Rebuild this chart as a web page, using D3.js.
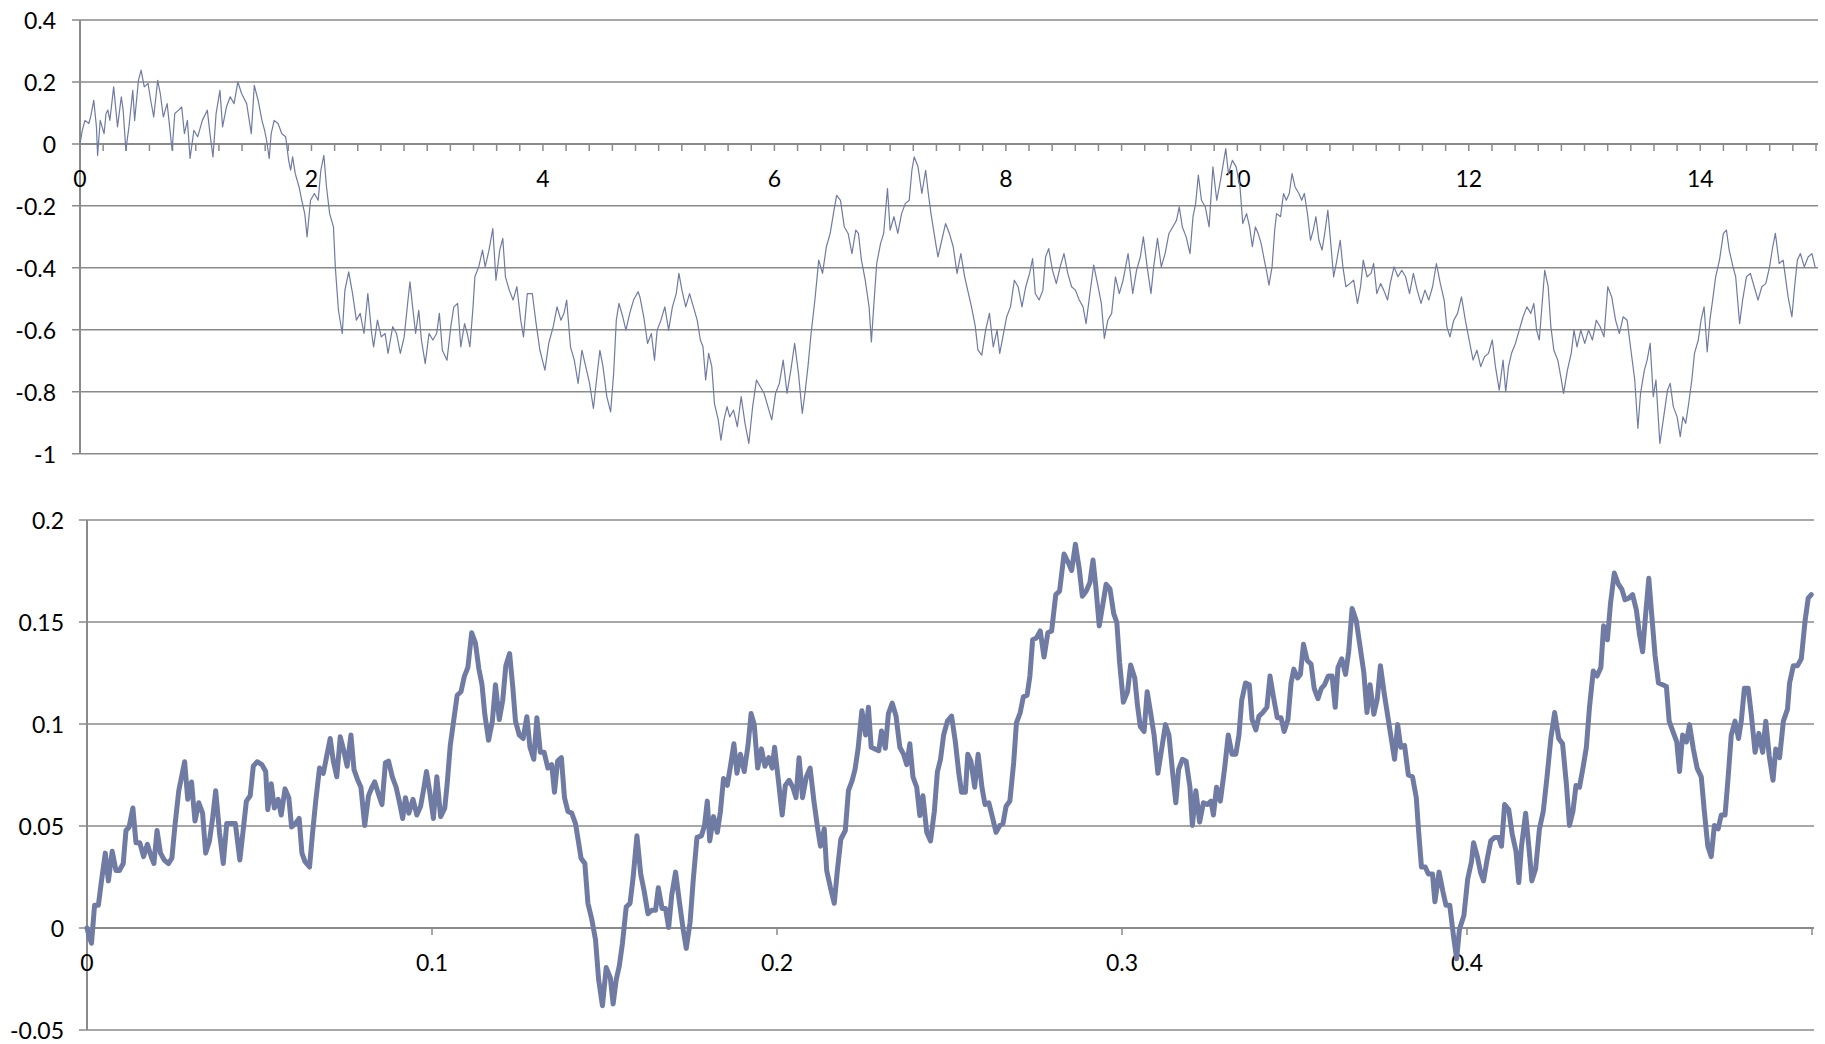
<!DOCTYPE html>
<html>
<head>
<meta charset="utf-8">
<script src="https://cdn.jsdelivr.net/npm/d3@7/dist/d3.min.js"></script>
<style>
  html, body { margin: 0; padding: 0; background: #ffffff; }
  svg { display: block; }
  text { font-family: Lato, "Open Sans", "DejaVu Sans", sans-serif; font-size: 23px; fill: #000; }
</style>
</head>
<body>
<svg id="chart" width="1825" height="1044"></svg>
<script>
// ---------- Top panel data (t from 0 to 15) ----------
const topT = [0.000,0.020,0.043,0.076,0.092,0.119,0.142,0.152,0.175,0.208,0.225,0.241,0.258,0.291,0.324,0.357,0.373,0.396,0.423,0.456,0.472,0.505,0.528,0.555,0.588,0.611,0.637,0.671,0.694,0.720,0.753,0.796,0.819,0.852,0.879,0.902,0.928,0.951,0.984,1.017,1.057,1.100,1.123,1.149,1.176,1.209,1.232,1.265,1.298,1.331,1.364,1.397,1.440,1.480,1.506,1.539,1.572,1.595,1.612,1.635,1.652,1.678,1.711,1.744,1.777,1.803,1.820,1.837,1.860,1.893,1.916,1.942,1.962,1.992,2.025,2.058,2.081,2.107,2.130,2.157,2.190,2.206,2.233,2.266,2.289,2.322,2.355,2.388,2.421,2.454,2.487,2.520,2.537,2.570,2.603,2.636,2.662,2.702,2.735,2.768,2.801,2.834,2.851,2.874,2.900,2.927,2.950,2.983,3.016,3.049,3.082,3.105,3.131,3.171,3.204,3.230,3.263,3.290,3.323,3.346,3.369,3.396,3.412,3.445,3.478,3.501,3.534,3.567,3.594,3.627,3.653,3.676,3.709,3.742,3.775,3.808,3.832,3.865,3.908,3.941,3.974,4.017,4.050,4.089,4.122,4.155,4.182,4.205,4.238,4.271,4.304,4.337,4.370,4.403,4.436,4.469,4.492,4.519,4.552,4.585,4.611,4.634,4.657,4.690,4.717,4.750,4.783,4.822,4.838,4.871,4.904,4.937,4.964,4.987,5.020,5.053,5.086,5.119,5.152,5.175,5.201,5.234,5.267,5.300,5.333,5.360,5.383,5.406,5.432,5.459,5.482,5.515,5.538,5.564,5.591,5.614,5.647,5.680,5.713,5.746,5.779,5.812,5.845,5.878,5.911,5.944,5.977,6.010,6.043,6.076,6.109,6.142,6.175,6.208,6.241,6.264,6.290,6.317,6.350,6.383,6.416,6.449,6.482,6.515,6.538,6.571,6.604,6.637,6.670,6.703,6.726,6.752,6.785,6.818,6.838,6.858,6.884,6.917,6.944,6.977,7.000,7.033,7.066,7.099,7.132,7.165,7.188,7.208,7.241,7.274,7.307,7.330,7.353,7.380,7.413,7.446,7.479,7.512,7.545,7.578,7.611,7.644,7.670,7.703,7.736,7.759,7.792,7.825,7.858,7.891,7.924,7.947,7.974,8.007,8.040,8.073,8.106,8.139,8.172,8.205,8.231,8.254,8.287,8.320,8.343,8.370,8.403,8.436,8.469,8.502,8.535,8.568,8.601,8.634,8.667,8.693,8.726,8.759,8.792,8.825,8.851,8.881,8.914,8.947,8.980,9.013,9.056,9.096,9.129,9.162,9.188,9.221,9.254,9.277,9.310,9.343,9.376,9.409,9.442,9.475,9.498,9.525,9.558,9.591,9.617,9.640,9.663,9.690,9.723,9.756,9.789,9.822,9.855,9.874,9.900,9.923,9.957,9.990,10.023,10.047,10.080,10.106,10.130,10.156,10.180,10.206,10.233,10.256,10.273,10.300,10.323,10.339,10.373,10.399,10.423,10.449,10.473,10.499,10.532,10.556,10.579,10.606,10.632,10.656,10.679,10.705,10.732,10.755,10.782,10.805,10.832,10.855,10.889,10.912,10.938,10.972,11.005,11.038,11.065,11.088,11.121,11.155,11.178,11.205,11.238,11.265,11.298,11.321,11.354,11.388,11.421,11.454,11.488,11.521,11.554,11.587,11.621,11.654,11.687,11.720,11.754,11.787,11.810,11.837,11.870,11.903,11.937,11.970,12.003,12.037,12.070,12.103,12.136,12.170,12.203,12.230,12.263,12.296,12.319,12.343,12.369,12.403,12.436,12.469,12.502,12.536,12.562,12.586,12.609,12.636,12.656,12.686,12.709,12.735,12.769,12.795,12.819,12.852,12.885,12.909,12.935,12.968,13.002,13.035,13.068,13.102,13.135,13.168,13.201,13.235,13.268,13.301,13.334,13.368,13.401,13.434,13.461,13.484,13.517,13.541,13.567,13.594,13.617,13.651,13.684,13.717,13.740,13.767,13.800,13.827,13.850,13.874,13.900,13.927,13.950,13.983,14.007,14.033,14.060,14.083,14.107,14.133,14.166,14.200,14.226,14.250,14.283,14.306,14.340,14.366,14.399,14.433,14.466,14.499,14.532,14.566,14.599,14.626,14.649,14.682,14.716,14.759,14.792,14.815,14.839,14.865,14.899,14.932,14.965,14.992];
const topW = [0.000,0.044,0.076,0.066,0.087,0.141,0.055,-0.037,0.076,0.033,0.098,0.109,0.076,0.184,0.055,0.152,0.109,-0.020,0.055,0.173,0.076,0.205,0.238,0.184,0.195,0.141,0.087,0.205,0.162,0.087,0.130,-0.020,0.098,0.109,0.119,0.033,0.076,-0.047,0.044,0.023,0.076,0.109,0.033,-0.042,0.098,0.173,0.055,0.119,0.152,0.130,0.200,0.162,0.130,0.033,0.189,0.141,0.076,0.044,0.012,-0.047,0.033,0.076,0.066,0.033,0.023,-0.053,-0.085,-0.042,-0.096,-0.139,-0.182,-0.225,-0.300,-0.182,-0.160,-0.182,-0.085,-0.037,-0.139,-0.225,-0.268,-0.397,-0.537,-0.612,-0.472,-0.413,-0.483,-0.569,-0.547,-0.612,-0.483,-0.612,-0.655,-0.569,-0.623,-0.612,-0.676,-0.590,-0.612,-0.676,-0.623,-0.504,-0.445,-0.526,-0.612,-0.537,-0.633,-0.709,-0.612,-0.633,-0.612,-0.547,-0.666,-0.698,-0.590,-0.526,-0.515,-0.655,-0.580,-0.612,-0.655,-0.526,-0.429,-0.397,-0.343,-0.397,-0.343,-0.273,-0.440,-0.343,-0.305,-0.429,-0.472,-0.504,-0.461,-0.569,-0.623,-0.483,-0.483,-0.580,-0.666,-0.730,-0.644,-0.590,-0.526,-0.569,-0.547,-0.504,-0.655,-0.698,-0.773,-0.666,-0.719,-0.773,-0.854,-0.741,-0.666,-0.719,-0.816,-0.865,-0.741,-0.569,-0.515,-0.558,-0.601,-0.547,-0.504,-0.477,-0.494,-0.558,-0.644,-0.612,-0.698,-0.601,-0.569,-0.526,-0.601,-0.526,-0.483,-0.418,-0.472,-0.526,-0.483,-0.526,-0.569,-0.633,-0.655,-0.762,-0.676,-0.719,-0.838,-0.891,-0.956,-0.891,-0.848,-0.881,-0.859,-0.913,-0.816,-0.902,-0.967,-0.848,-0.762,-0.784,-0.805,-0.848,-0.891,-0.805,-0.773,-0.698,-0.805,-0.730,-0.644,-0.741,-0.870,-0.805,-0.719,-0.612,-0.504,-0.375,-0.418,-0.332,-0.289,-0.214,-0.166,-0.182,-0.268,-0.289,-0.354,-0.278,-0.289,-0.375,-0.440,-0.526,-0.639,-0.526,-0.386,-0.322,-0.289,-0.144,-0.278,-0.235,-0.289,-0.225,-0.192,-0.182,-0.085,-0.042,-0.074,-0.160,-0.085,-0.160,-0.225,-0.289,-0.365,-0.311,-0.257,-0.289,-0.332,-0.418,-0.354,-0.429,-0.472,-0.526,-0.590,-0.666,-0.682,-0.601,-0.547,-0.655,-0.601,-0.676,-0.623,-0.558,-0.526,-0.440,-0.461,-0.526,-0.461,-0.418,-0.370,-0.483,-0.504,-0.472,-0.365,-0.338,-0.408,-0.451,-0.397,-0.354,-0.418,-0.461,-0.472,-0.504,-0.526,-0.580,-0.483,-0.391,-0.451,-0.515,-0.628,-0.569,-0.547,-0.429,-0.483,-0.440,-0.354,-0.483,-0.408,-0.365,-0.300,-0.397,-0.483,-0.397,-0.305,-0.397,-0.354,-0.289,-0.268,-0.246,-0.203,-0.268,-0.300,-0.354,-0.235,-0.192,-0.101,-0.182,-0.203,-0.268,-0.074,-0.182,-0.117,-0.074,-0.015,-0.096,-0.053,-0.074,-0.139,-0.257,-0.225,-0.268,-0.332,-0.268,-0.289,-0.322,-0.375,-0.418,-0.456,-0.397,-0.278,-0.225,-0.235,-0.160,-0.182,-0.160,-0.096,-0.139,-0.160,-0.182,-0.160,-0.225,-0.311,-0.278,-0.235,-0.311,-0.343,-0.289,-0.214,-0.311,-0.429,-0.386,-0.311,-0.397,-0.461,-0.451,-0.440,-0.515,-0.461,-0.375,-0.429,-0.418,-0.386,-0.483,-0.451,-0.472,-0.504,-0.451,-0.397,-0.429,-0.408,-0.429,-0.483,-0.418,-0.472,-0.515,-0.472,-0.504,-0.461,-0.386,-0.451,-0.504,-0.590,-0.623,-0.569,-0.547,-0.494,-0.569,-0.633,-0.698,-0.666,-0.719,-0.687,-0.676,-0.633,-0.719,-0.795,-0.698,-0.800,-0.719,-0.676,-0.644,-0.601,-0.558,-0.526,-0.547,-0.515,-0.601,-0.633,-0.504,-0.408,-0.461,-0.590,-0.666,-0.698,-0.752,-0.805,-0.730,-0.676,-0.601,-0.655,-0.601,-0.644,-0.601,-0.633,-0.569,-0.590,-0.623,-0.461,-0.494,-0.569,-0.612,-0.558,-0.569,-0.666,-0.762,-0.918,-0.805,-0.730,-0.698,-0.644,-0.816,-0.762,-0.967,-0.881,-0.795,-0.773,-0.848,-0.881,-0.945,-0.881,-0.902,-0.838,-0.762,-0.676,-0.633,-0.569,-0.526,-0.671,-0.569,-0.504,-0.429,-0.375,-0.289,-0.278,-0.343,-0.397,-0.429,-0.580,-0.504,-0.429,-0.418,-0.461,-0.504,-0.461,-0.451,-0.397,-0.332,-0.289,-0.386,-0.375,-0.494,-0.558,-0.461,-0.375,-0.354,-0.397,-0.365,-0.354,-0.397];

// ---------- Bottom panel data (t from 0 to 0.5) ----------
const botT = [0.0000,0.0006,0.0013,0.0022,0.0033,0.0042,0.0053,0.0062,0.0073,0.0084,0.0094,0.0105,0.0113,0.0122,0.0133,0.0142,0.0153,0.0164,0.0175,0.0186,0.0194,0.0203,0.0213,0.0224,0.0236,0.0246,0.0255,0.0266,0.0283,0.0292,0.0303,0.0313,0.0324,0.0335,0.0344,0.0355,0.0364,0.0373,0.0384,0.0395,0.0405,0.0416,0.0430,0.0443,0.0452,0.0462,0.0473,0.0482,0.0493,0.0507,0.0518,0.0524,0.0534,0.0543,0.0554,0.0563,0.0574,0.0585,0.0593,0.0604,0.0615,0.0623,0.0632,0.0645,0.0654,0.0663,0.0674,0.0685,0.0695,0.0705,0.0714,0.0724,0.0734,0.0743,0.0754,0.0765,0.0774,0.0785,0.0794,0.0805,0.0816,0.0826,0.0834,0.0845,0.0855,0.0865,0.0874,0.0885,0.0896,0.0905,0.0915,0.0923,0.0933,0.0945,0.0956,0.0967,0.0976,0.0984,0.0993,0.1004,0.1014,0.1025,0.1037,0.1044,0.1053,0.1064,0.1073,0.1084,0.1094,0.1104,0.1115,0.1126,0.1136,0.1145,0.1153,0.1164,0.1175,0.1184,0.1195,0.1205,0.1214,0.1225,0.1234,0.1242,0.1253,0.1264,0.1275,0.1284,0.1295,0.1304,0.1314,0.1325,0.1336,0.1347,0.1355,0.1364,0.1375,0.1384,0.1394,0.1405,0.1416,0.1425,0.1432,0.1443,0.1452,0.1463,0.1474,0.1483,0.1494,0.1505,0.1517,0.1525,0.1534,0.1543,0.1552,0.1563,0.1574,0.1583,0.1594,0.1605,0.1615,0.1626,0.1637,0.1648,0.1656,0.1667,0.1677,0.1686,0.1695,0.1706,0.1717,0.1728,0.1737,0.1748,0.1757,0.1768,0.1781,0.1790,0.1798,0.1805,0.1816,0.1827,0.1836,0.1845,0.1856,0.1865,0.1875,0.1884,0.1894,0.1905,0.1916,0.1925,0.1934,0.1944,0.1955,0.1965,0.1976,0.1986,0.1993,0.2004,0.2015,0.2024,0.2035,0.2046,0.2055,0.2064,0.2074,0.2085,0.2096,0.2107,0.2118,0.2126,0.2137,0.2144,0.2155,0.2166,0.2175,0.2185,0.2198,0.2207,0.2218,0.2226,0.2235,0.2246,0.2257,0.2265,0.2273,0.2284,0.2295,0.2303,0.2314,0.2323,0.2334,0.2345,0.2356,0.2367,0.2376,0.2385,0.2394,0.2405,0.2414,0.2423,0.2434,0.2445,0.2456,0.2465,0.2474,0.2483,0.2494,0.2506,0.2517,0.2527,0.2535,0.2546,0.2553,0.2562,0.2573,0.2583,0.2594,0.2603,0.2614,0.2624,0.2635,0.2646,0.2655,0.2664,0.2675,0.2686,0.2694,0.2705,0.2714,0.2725,0.2733,0.2741,0.2752,0.2763,0.2774,0.2785,0.2796,0.2808,0.2819,0.2832,0.2843,0.2854,0.2865,0.2876,0.2885,0.2896,0.2907,0.2916,0.2924,0.2934,0.2945,0.2954,0.2965,0.2976,0.2985,0.2993,0.3004,0.3016,0.3025,0.3037,0.3045,0.3053,0.3064,0.3073,0.3082,0.3093,0.3104,0.3115,0.3126,0.3136,0.3147,0.3156,0.3164,0.3175,0.3186,0.3197,0.3204,0.3214,0.3225,0.3236,0.3247,0.3258,0.3265,0.3274,0.3285,0.3297,0.3308,0.3319,0.3330,0.3339,0.3347,0.3358,0.3369,0.3377,0.3388,0.3397,0.3408,0.3420,0.3429,0.3439,0.3450,0.3461,0.3470,0.3481,0.3490,0.3498,0.3509,0.3517,0.3526,0.3537,0.3548,0.3557,0.3568,0.3578,0.3587,0.3598,0.3609,0.3618,0.3626,0.3637,0.3648,0.3657,0.3667,0.3679,0.3690,0.3701,0.3710,0.3719,0.3730,0.3740,0.3749,0.3760,0.3771,0.3782,0.3790,0.3799,0.3808,0.3819,0.3830,0.3842,0.3853,0.3860,0.3868,0.3879,0.3888,0.3900,0.3907,0.3919,0.3930,0.3939,0.3950,0.3961,0.3970,0.3978,0.3991,0.4002,0.4013,0.4019,0.4030,0.4039,0.4048,0.4058,0.4069,0.4080,0.4092,0.4100,0.4109,0.4121,0.4131,0.4142,0.4150,0.4158,0.4170,0.4181,0.4188,0.4199,0.4210,0.4221,0.4232,0.4243,0.4254,0.4266,0.4277,0.4288,0.4297,0.4307,0.4316,0.4326,0.4337,0.4346,0.4355,0.4366,0.4377,0.4388,0.4396,0.4407,0.4416,0.4427,0.4439,0.4449,0.4458,0.4469,0.4480,0.4491,0.4500,0.4509,0.4518,0.4527,0.4536,0.4545,0.4555,0.4567,0.4578,0.4586,0.4597,0.4608,0.4616,0.4625,0.4636,0.4645,0.4656,0.4667,0.4679,0.4688,0.4698,0.4708,0.4717,0.4728,0.4737,0.4748,0.4757,0.4766,0.4777,0.4787,0.4795,0.4804,0.4815,0.4824,0.4835,0.4846,0.4857,0.4866,0.4876,0.4887,0.4895,0.4906,0.4917,0.4929,0.4935,0.4946,0.4958,0.4969,0.4980,0.4989,0.4998];
const botW = [0.0000,-0.0041,-0.0075,0.0112,0.0112,0.0231,0.0367,0.0231,0.0376,0.0282,0.0282,0.0316,0.0478,0.0495,0.0588,0.0418,0.0418,0.0350,0.0410,0.0350,0.0316,0.0478,0.0367,0.0333,0.0316,0.0342,0.0503,0.0673,0.0815,0.0631,0.0716,0.0524,0.0614,0.0563,0.0367,0.0427,0.0537,0.0673,0.0469,0.0316,0.0512,0.0512,0.0512,0.0333,0.0469,0.0622,0.0648,0.0793,0.0815,0.0801,0.0767,0.0580,0.0707,0.0588,0.0631,0.0554,0.0682,0.0639,0.0495,0.0512,0.0537,0.0367,0.0325,0.0299,0.0469,0.0622,0.0784,0.0758,0.0844,0.0929,0.0818,0.0741,0.0937,0.0878,0.0793,0.0946,0.0776,0.0724,0.0690,0.0503,0.0648,0.0690,0.0716,0.0656,0.0605,0.0810,0.0818,0.0741,0.0690,0.0622,0.0537,0.0639,0.0563,0.0631,0.0554,0.0597,0.0682,0.0767,0.0673,0.0537,0.0741,0.0546,0.0588,0.0707,0.0895,0.1031,0.1141,0.1158,0.1235,0.1277,0.1447,0.1396,0.1269,0.1192,0.1048,0.0920,0.1014,0.1192,0.1022,0.1116,0.1286,0.1345,0.1184,0.1014,0.0946,0.0929,0.1036,0.0886,0.0827,0.1031,0.0861,0.0861,0.0784,0.0801,0.0665,0.0818,0.0835,0.0639,0.0571,0.0563,0.0512,0.0418,0.0342,0.0316,0.0121,0.0044,-0.0058,-0.0253,-0.0381,-0.0194,-0.0245,-0.0372,-0.0253,-0.0185,-0.0075,0.0104,0.0121,0.0248,0.0452,0.0265,0.0180,0.0070,0.0087,0.0087,0.0197,0.0095,0.0095,0.0002,0.0163,0.0274,0.0129,-0.0007,-0.0100,0.0027,0.0231,0.0444,0.0452,0.0503,0.0622,0.0427,0.0546,0.0469,0.0571,0.0733,0.0699,0.0793,0.0903,0.0759,0.0852,0.0767,0.0895,0.1051,0.0997,0.0784,0.0878,0.0793,0.0835,0.0784,0.0886,0.0724,0.0554,0.0699,0.0724,0.0690,0.0639,0.0835,0.0639,0.0741,0.0784,0.0622,0.0486,0.0401,0.0486,0.0282,0.0197,0.0121,0.0282,0.0435,0.0478,0.0673,0.0724,0.0776,0.0878,0.1065,0.0946,0.1082,0.0886,0.0878,0.0869,0.0966,0.0881,0.1051,0.1102,0.1039,0.0886,0.0852,0.0801,0.0903,0.0741,0.0690,0.0551,0.0648,0.0469,0.0427,0.0571,0.0767,0.0827,0.0946,0.1014,0.1039,0.0912,0.0759,0.0665,0.0665,0.0852,0.0818,0.0690,0.0852,0.0690,0.0605,0.0614,0.0546,0.0469,0.0503,0.0512,0.0597,0.0622,0.0810,0.1005,0.1056,0.1133,0.1141,0.1235,0.1413,0.1422,0.1456,0.1328,0.1447,0.1456,0.1634,0.1651,0.1833,0.1796,0.1753,0.1881,0.1762,0.1626,0.1651,0.1694,0.1804,0.1677,0.1481,0.1592,0.1685,0.1663,0.1541,0.1498,0.1303,0.1107,0.1158,0.1289,0.1226,0.1090,0.0988,0.0963,0.1158,0.1065,0.0946,0.0759,0.0878,0.0997,0.0946,0.0759,0.0614,0.0776,0.0827,0.0818,0.0690,0.0503,0.0673,0.0520,0.0614,0.0605,0.0622,0.0554,0.0690,0.0622,0.0776,0.0946,0.0852,0.0852,0.0946,0.1116,0.1201,0.1192,0.1022,0.0971,0.1039,0.1056,0.1082,0.1235,0.1133,0.1031,0.1031,0.0963,0.1022,0.1201,0.1269,0.1226,0.1243,0.1391,0.1311,0.1294,0.1175,0.1124,0.1175,0.1192,0.1235,0.1235,0.1082,0.1277,0.1320,0.1243,0.1354,0.1566,0.1507,0.1379,0.1252,0.1056,0.1192,0.1048,0.1124,0.1286,0.1150,0.1031,0.0912,0.0827,0.0997,0.0886,0.0895,0.0750,0.0741,0.0639,0.0469,0.0299,0.0299,0.0265,0.0265,0.0129,0.0274,0.0180,0.0112,0.0112,-0.0041,-0.0151,-0.0007,0.0061,0.0240,0.0325,0.0418,0.0350,0.0274,0.0231,0.0333,0.0427,0.0444,0.0444,0.0401,0.0605,0.0580,0.0461,0.0376,0.0223,0.0401,0.0563,0.0367,0.0231,0.0291,0.0486,0.0571,0.0741,0.0929,0.1056,0.0929,0.0903,0.0707,0.0503,0.0571,0.0699,0.0690,0.0793,0.0886,0.1082,0.1260,0.1235,0.1277,0.1481,0.1413,0.1592,0.1740,0.1685,0.1660,0.1609,0.1617,0.1634,0.1558,0.1439,0.1354,0.1541,0.1714,0.1524,0.1337,0.1201,0.1192,0.1184,0.1014,0.0963,0.0912,0.0767,0.0946,0.0912,0.0997,0.0878,0.0784,0.0741,0.0571,0.0401,0.0350,0.0503,0.0486,0.0554,0.0554,0.0741,0.0946,0.1014,0.0929,0.1014,0.1175,0.1175,0.1048,0.0861,0.0954,0.0861,0.1014,0.0844,0.0724,0.0878,0.0835,0.1014,0.1073,0.1201,0.1286,0.1286,0.1320,0.1507,0.1617,0.1634];

// ---------- Tick values ----------
const topYTicks = [0.4, 0.2, 0, -0.2, -0.4, -0.6, -0.8, -1];
const topXLabels = [0, 2, 4, 6, 8, 10, 12, 14];
const topXMinor = d3.range(0, 75).map(i => i * 0.2).concat([15]);
const botYTicks = [0.2, 0.15, 0.1, 0.05, 0, -0.05];
const botXLabels = [0, 0.1, 0.2, 0.3, 0.4];
const botXTicks = [0, 0.1, 0.2, 0.3, 0.4, 0.5];

const LINE = "#6f7ba3";
const GRID = "#8a8a8a";

const svg = d3.select("#chart");

function panel(cfg) {
  const g = svg.append("g");
  const x = d3.scaleLinear().domain(cfg.xDomain).range(cfg.xRange);
  const y = d3.scaleLinear().domain(cfg.yDomain).range(cfg.yRange);
  const x0 = cfg.xRange[0], x1 = cfg.xRange[1];

  // horizontal gridlines (with small outward stub left of axis)
  g.selectAll(".grid").data(cfg.yTicks).join("line")
    .attr("x1", x0 - 8).attr("x2", x1 + 2)
    .attr("y1", d => y(d)).attr("y2", d => y(d))
    .attr("stroke", GRID).attr("stroke-width", 1.5);

  // y tick labels
  g.selectAll(".ylab").data(cfg.yTicks).join("text")
    .attr("x", cfg.yLabelX).attr("y", d => y(d))
    .attr("text-anchor", "end").attr("dominant-baseline", "central")
    .text(d => String(d));

  // vertical axis
  g.append("line")
    .attr("x1", x0).attr("x2", x0)
    .attr("y1", y(cfg.yDomain[1])).attr("y2", y(cfg.yDomain[0]))
    .attr("stroke", GRID).attr("stroke-width", 2);

  // horizontal axis at y = 0
  const y0 = y(0);
  g.append("line")
    .attr("x1", x0).attr("x2", x1 + 2)
    .attr("y1", y0).attr("y2", y0)
    .attr("stroke", GRID).attr("stroke-width", 2);

  g.selectAll(".xtick").data(cfg.xTicks).join("line")
    .attr("x1", d => x(d)).attr("x2", d => x(d))
    .attr("y1", y0).attr("y2", y0 + 7)
    .attr("stroke", GRID).attr("stroke-width", 1.5);

  g.selectAll(".xlab").data(cfg.xLabels).join("text")
    .attr("x", d => x(d)).attr("y", y0 + cfg.xLabelDy)
    .attr("text-anchor", "middle").attr("dominant-baseline", "central")
    .text(d => String(d));

  // data line
  const pts = cfg.t.map((t, i) => [t, cfg.w[i]]);
  g.append("path")
    .datum(pts)
    .attr("fill", "none")
    .attr("stroke", LINE)
    .attr("stroke-width", cfg.lineWidth)
    .attr("stroke-linejoin", "round")
    .attr("stroke-linecap", "round")
    .attr("d", d3.line().x(d => x(d[0])).y(d => y(d[1])));
}

panel({
  xDomain: [0, 15], xRange: [80, 1816],
  yDomain: [-1, 0.4], yRange: [453.7, 20],
  yTicks: topYTicks, yLabelX: 56,
  xTicks: topXMinor, xLabels: topXLabels, xLabelDy: 34,
  t: topT, w: topW, lineWidth: 1.2
});

panel({
  xDomain: [0, 0.5], xRange: [87, 1812],
  yDomain: [-0.05, 0.2], yRange: [1030, 520],
  yTicks: botYTicks, yLabelX: 64,
  xTicks: botXTicks, xLabels: botXLabels, xLabelDy: 34,
  t: botT, w: botW, lineWidth: 5
});
</script>
</body>
</html>
